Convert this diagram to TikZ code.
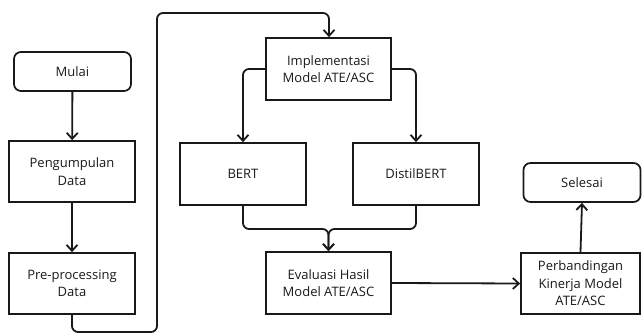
\documentclass[tikz,border=0pt]{standalone}
\usepackage{fontspec}
\setmainfont{Open Sans}
\usetikzlibrary{arrows.meta}
\tikzset{
  box/.style={draw=black!90, line width=1.7pt, minimum width=126pt, minimum height=61pt, align=center, inner sep=2pt, font=\fontsize{13}{17.5}\selectfont, text=black!90},
  term/.style={box, rounded corners=7pt, minimum width=117pt, minimum height=39pt},
  conn/.style={draw=black!90, line width=1.8pt, rounded corners=6pt, -{Straight Barb[length=6pt,width=11pt,line width=1.8pt]}}
}
\begin{document}
\begin{tikzpicture}[x=1pt,y=-1pt]
\useasboundingbox (0,0) rectangle (642,336);
\node[term] (mulai) at (72.5,71.5) {Mulai};
\node[box] (peng) at (72,171.5) {Pengumpulan\\Data};
\node[box] (pre) at (72,283.5) {Pre-processing\\Data};
\node[box, minimum width=125pt, minimum height=62pt] (impl) at (328.5,69) {Implementasi\\Model ATE/ASC};
\node[box, minimum height=62pt] (bert) at (243,174) {BERT};
\node[box, minimum height=62pt] (dist) at (416,174) {DistilBERT};
\node[box, minimum width=125pt, minimum height=62pt] (eval) at (328.5,283) {Evaluasi Hasil\\Model ATE/ASC};
\node[box, minimum width=119pt] (perb) at (580.5,283.5) {Perbandingan\\Kinerja Model\\ATE/ASC};
\node[term] (sel) at (582,182.5) {Selesai};
\coordinate (l1) at (72,332);
\coordinate (l2) at (157,332);
\coordinate (l3) at (157,13);
\coordinate (l4) at (329,13);
\coordinate (m) at (328.5,229);
\draw[conn] (mulai) -- (peng);
\draw[conn] (peng) -- (pre);
\draw[conn] (pre.south) -- (l1) -- (l2) -- (l3) -- (l4) -- (impl.north -| l4);
\draw[conn] (impl.west) -| (bert.north);
\draw[conn] (impl.east) -| (dist.north);
\draw[conn] (bert.south) |- (m) -- (eval.north);
\draw[conn] (dist.south) |- (m) -- (eval.north);
\draw[conn] (eval.east) -- (perb.west);
\draw[conn] (perb.north) -- (sel.south);
\end{tikzpicture}
\end{document}
